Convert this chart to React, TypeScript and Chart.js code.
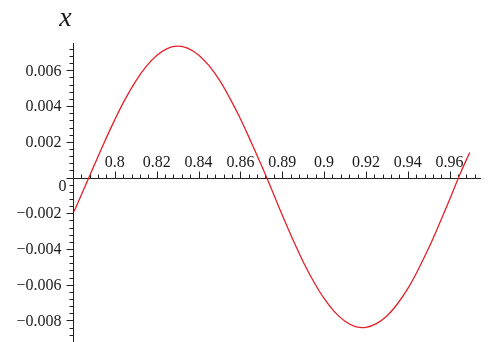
import React, { useEffect, useRef } from "react";
import { Chart, registerables } from "chart.js";

Chart.register(...registerables);

const xValues = [
  0.7805, 0.785, 0.79, 0.795, 0.8, 0.805, 0.81, 0.815, 0.82, 0.825, 0.83, 0.835,
  0.84, 0.845, 0.85, 0.855, 0.86, 0.865, 0.87, 0.875, 0.88, 0.885, 0.89, 0.895,
  0.9, 0.905, 0.91, 0.915, 0.92, 0.925, 0.93, 0.935, 0.94, 0.945, 0.95, 0.955,
  0.96, 0.965, 0.9696,
];
const yValues = [
  -0.0019, -0.0007, 0.00065, 0.00198, 0.00324, 0.0044, 0.0054, 0.00622, 0.00683,
  0.00722, 0.00735, 0.00723, 0.00686, 0.00626, 0.00545, 0.00443, 0.00329,
  0.00202, 0.0007, -0.00068, -0.0021, -0.00345, -0.00471, -0.00582, -0.00677,
  -0.00752, -0.00804, -0.00834, -0.00839, -0.00818, -0.00775, -0.00708,
  -0.00622, -0.00515, -0.00395, -0.00262, -0.00123, 0.0002, 0.0014,
];

const xTickValues = [0.8, 0.82, 0.84, 0.86, 0.88, 0.9, 0.92, 0.94, 0.96];
const xTickLabels = ["0.8", "0.82", "0.84", "0.86", "0.89", "0.9", "0.92", "0.94", "0.96"];
const yTickValues = [0.006, 0.004, 0.002, 0, -0.002, -0.004, -0.006, -0.008];
const yTickLabels = ["0.006", "0.004", "0.002", "0", "\u22120.002", "\u22120.004", "\u22120.006", "\u22120.008"];
const xMinorStep = 0.004;
const yMinorStep = 0.0004;
const xRange = [0.78, 0.975];
const yRange = [-0.00915, 0.00753];
const axisTitle = "x";

const axesPlugin = {
  id: "mapleAxes",
  beforeDatasetsDraw(chart: any) {
    const ctx = chart.ctx;
    const xs = chart.scales.x;
    const ys = chart.scales.y;
    const area = chart.chartArea;
    const y0 = Math.round(ys.getPixelForValue(0)) + 0.5;
    const x0 = Math.round(xs.getPixelForValue(xRange[0])) + 0.5;
    ctx.save();
    ctx.strokeStyle = "#222";
    ctx.lineWidth = 1;
    ctx.beginPath();
    ctx.moveTo(area.left, y0);
    ctx.lineTo(area.right, y0);
    ctx.moveTo(x0, area.top);
    ctx.lineTo(x0, area.bottom + 2);
    for (let v = xRange[0] + xMinorStep; v < xRange[1]; v += xMinorStep) {
      const px = Math.round(xs.getPixelForValue(v)) + 0.5;
      ctx.moveTo(px, y0);
      ctx.lineTo(px, y0 - 4);
    }
    xTickValues.forEach((v) => {
      const px = Math.round(xs.getPixelForValue(v)) + 0.5;
      ctx.moveTo(px, y0);
      ctx.lineTo(px, y0 - 7);
    });
    for (let k = Math.ceil(yRange[0] / yMinorStep); k * yMinorStep < yRange[1]; k++) {
      const py = Math.round(ys.getPixelForValue(k * yMinorStep)) + 0.5;
      ctx.moveTo(x0, py);
      ctx.lineTo(x0 - 4, py);
    }
    yTickValues.forEach((v) => {
      const py = Math.round(ys.getPixelForValue(v)) + 0.5;
      ctx.moveTo(x0, py);
      ctx.lineTo(x0 - 7, py);
    });
    ctx.stroke();

    ctx.fillStyle = "#1a1a1a";
    ctx.font = "16px 'Liberation Serif', 'DejaVu Serif', serif";
    ctx.textAlign = "center";
    ctx.textBaseline = "alphabetic";
    xTickValues.forEach((v, i) => {
      const px = xs.getPixelForValue(v);
      ctx.fillText(xTickLabels[i], px, y0 - 12);
    });
    ctx.textAlign = "right";
    ctx.textBaseline = "middle";
    yTickValues.forEach((v, i) => {
      const py = ys.getPixelForValue(v);
      if (v === 0) {
        ctx.fillText(yTickLabels[i], x0 - 7, py + 9);
      } else {
        ctx.fillText(yTickLabels[i], x0 - 12, py + 1);
      }
    });
    ctx.font = "italic 28px 'Liberation Serif', 'DejaVu Serif', serif";
    ctx.textAlign = "center";
    ctx.textBaseline = "alphabetic";
    ctx.fillText(axisTitle, x0 - 8, 26);
    ctx.restore();
  },
};

export default function App() {
  const ref = useRef<HTMLCanvasElement | null>(null);
  useEffect(() => {
    document.body.style.margin = "0";
    const canvas = ref.current;
    if (!canvas) return;
    const chart = new Chart(canvas, {
      type: "line",
      data: {
        datasets: [
          {
            data: xValues.map((x, i) => ({ x, y: yValues[i] })),
            borderColor: "rgb(228,32,40)",
            borderWidth: 1.3,
            pointRadius: 0,
            tension: 0.4,
            fill: false,
          },
        ],
      },
      options: {
        responsive: false,
        animation: false,
        layout: { padding: { left: 73, right: 10, top: 43, bottom: 1 } },
        plugins: { legend: { display: false }, tooltip: { enabled: false } },
        scales: {
          x: { type: "linear", min: xRange[0], max: xRange[1], display: false },
          y: { type: "linear", min: yRange[0], max: yRange[1], display: false },
        },
      },
      plugins: [axesPlugin],
    });
    return () => chart.destroy();
  }, []);
  return (
    <div style={{ position: "absolute", left: 0, top: 0, width: 491, height: 342, background: "#fff" }}>
      <canvas ref={ref} width={491} height={342} />
    </div>
  );
}
